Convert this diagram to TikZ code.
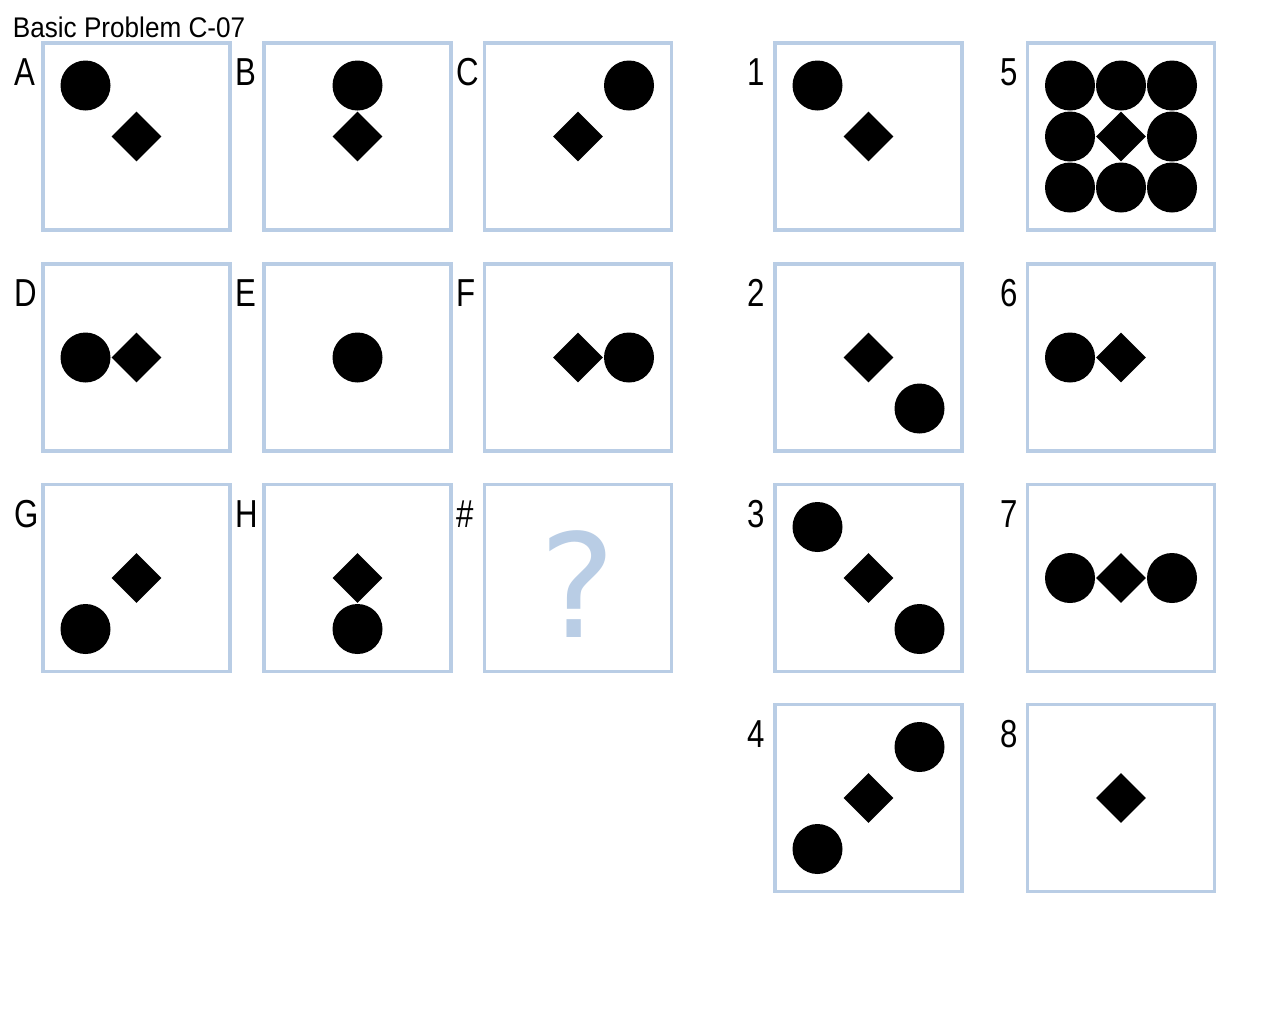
\documentclass[tikz,border=0pt]{standalone}
\usepackage{fontspec}
\setmainfont{Liberation Sans}
\newfontfamily\labfont[FakeStretch=0.8]{Liberation Sans}
\newfontfamily\titfont[FakeStretch=0.92]{Liberation Sans}
\newfontfamily\qfont{DejaVu Sans}
\usetikzlibrary{shapes.geometric,calc}
\definecolor{panelblue}{HTML}{B9CDE5}
\tikzset{
  panel/.style={draw=panelblue, line width=1.6pt, minimum size=93.5pt, inner sep=0pt, fill=white},
  dot/.style={circle, fill=black, minimum size=25pt, inner sep=0pt},
  dia/.style={diamond, fill=black, minimum width=25pt, minimum height=25pt, inner sep=0pt, shape aspect=1},
  lab/.style={anchor=base west, inner sep=0pt, font=\labfont\fontsize{19.5}{20}\selectfont},
}
\begin{document}
\begin{tikzpicture}[x=0.5pt,y=-0.5pt]
\useasboundingbox[fill=white] (0,0) rectangle (1280,1024);
\node[anchor=base west, inner sep=0pt, font=\titfont\fontsize{14.2}{15}\selectfont] (title) at (12.5,37.3) {Basic Problem C-07};
% panels
\node[panel] (pA) at (136.5,136.5) {};
\node[panel] (pB) at (357.5,136.5) {};
\node[panel] (pC) at (578,136.5) {};
\node[panel] (pD) at (136.5,357.5) {};
\node[panel] (pE) at (357.5,357.5) {};
\node[panel] (pF) at (578,357.5) {};
\node[panel] (pG) at (136.5,578) {};
\node[panel] (pH) at (357.5,578) {};
\node[panel] (pQ) at (578,578) {};
\node[panel] (p1) at (868.5,136.5) {};
\node[panel] (p2) at (868.5,357.5) {};
\node[panel] (p3) at (868.5,578) {};
\node[panel] (p4) at (868.5,798) {};
\node[panel] (p5) at (1121,136.5) {};
\node[panel] (p6) at (1121,357.5) {};
\node[panel] (p7) at (1121,578) {};
\node[panel] (p8) at (1121,798) {};
% labels
\node[lab] (lA) at (14.5,85.5) {A};
\node[lab] (lB) at (235.5,85.5) {B};
\node[lab] (lC) at (456.5,85.5) {C};
\node[lab] (lD) at (14.5,306) {D};
\node[lab] (lE) at (235.5,306) {E};
\node[lab] (lF) at (456.5,306) {F};
\node[lab] (lG) at (14.5,527) {G};
\node[lab] (lH) at (235.5,527) {H};
\node[lab] (lQ) at (456.5,527) {\#};
\node[lab] (l1) at (747.5,85.5) {1};
\node[lab] (l2) at (747.5,306) {2};
\node[lab] (l3) at (747.5,527) {3};
\node[lab] (l4) at (747.5,747) {4};
\node[lab] (l5) at (1000,85.5) {5};
\node[lab] (l6) at (1000,306) {6};
\node[lab] (l7) at (1000,527) {7};
\node[lab] (l8) at (1000,747) {8};
% A
\node[dot] (aC) at ($(pA)+(-51,-51)$) {};
\node[dia] (aD) at (pA) {};
% B
\node[dot] (bC) at ($(pB)+(0,-51)$) {};
\node[dia] (bD) at (pB) {};
% C
\node[dot] (cC) at ($(pC)+(51,-51)$) {};
\node[dia] (cD) at (pC) {};
% D
\node[dot] (dC) at ($(pD)+(-51,0)$) {};
\node[dia] (dD) at (pD) {};
% E
\node[dot] (eC) at (pE) {};
% F
\node[dia] (fD) at (pF) {};
\node[dot] (fC) at ($(pF)+(51,0)$) {};
% G
\node[dia] (gD) at (pG) {};
\node[dot] (gC) at ($(pG)+(-51,51)$) {};
% H
\node[dia] (hD) at (pH) {};
\node[dot] (hC) at ($(pH)+(0,51)$) {};
% question
\node[anchor=base, inner sep=0pt, text=panelblue, font=\qfont\fontsize{72}{76}\selectfont] (qm) at (578,637) {?};
% 1
\node[dot] (oC) at ($(p1)+(-51,-51)$) {};
\node[dia] (oD) at (p1) {};
% 2
\node[dia] (tD) at (p2) {};
\node[dot] (tC) at ($(p2)+(51,51)$) {};
% 3
\node[dot] (thC1) at ($(p3)+(-51,-51)$) {};
\node[dia] (thD) at (p3) {};
\node[dot] (thC2) at ($(p3)+(51,51)$) {};
% 4
\node[dot] (foC1) at ($(p4)+(51,-51)$) {};
\node[dia] (foD) at (p4) {};
\node[dot] (foC2) at ($(p4)+(-51,51)$) {};
% 5
\node[dot] (fiC1) at ($(p5)+(-51,-51)$) {};
\node[dot] (fiC2) at ($(p5)+(0,-51)$) {};
\node[dot] (fiC3) at ($(p5)+(51,-51)$) {};
\node[dot] (fiC4) at ($(p5)+(-51,0)$) {};
\node[dia] (fiD) at (p5) {};
\node[dot] (fiC5) at ($(p5)+(51,0)$) {};
\node[dot] (fiC6) at ($(p5)+(-51,51)$) {};
\node[dot] (fiC7) at ($(p5)+(0,51)$) {};
\node[dot] (fiC8) at ($(p5)+(51,51)$) {};
% 6
\node[dot] (sC) at ($(p6)+(-51,0)$) {};
\node[dia] (sD) at (p6) {};
% 7
\node[dot] (seC1) at ($(p7)+(-51,0)$) {};
\node[dia] (seD) at (p7) {};
\node[dot] (seC2) at ($(p7)+(51,0)$) {};
% 8
\node[dia] (eiD) at (p8) {};
\end{tikzpicture}
\end{document}
